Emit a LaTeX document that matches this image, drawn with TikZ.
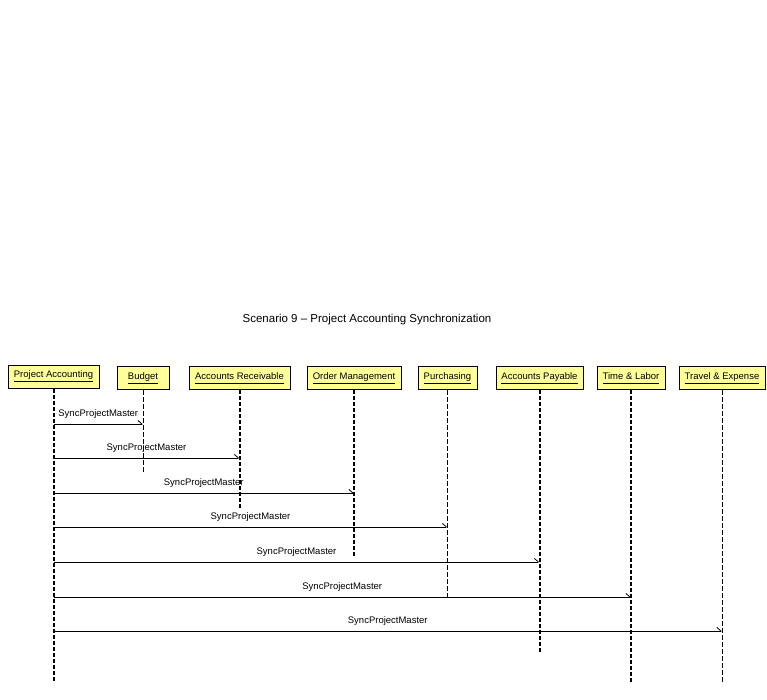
\documentclass[tikz,border=0pt]{standalone}
\usepackage{fontspec}
\setmainfont{Liberation Sans}
\usetikzlibrary{arrows.meta}
\definecolor{objyellow}{RGB}{255,255,153}
\newcommand{\ulname}[1]{\underline{#1\vphantom{gjpy}}}

\begin{document}
\begin{tikzpicture}[
        x=1pt, y=-1pt,
        obj/.style={draw, line width=1pt, fill=objyellow, minimum height=23pt, inner sep=0pt, align=center, font=\fontsize{9.5}{11}\selectfont},
        lifethick/.style={line width=2pt, dash pattern=on 4pt off 2pt},
        lifethin/.style={line width=1pt, dash pattern=on 5pt off 2pt},
        msg/.style={line width=1pt, -{Straight Barb[harpoon, length=4pt, width=7pt, line width=0.8pt]}},
        lbl/.style={font=\fontsize{9.5}{11}\selectfont, inner sep=0pt, above=5pt}
    ]
        \useasboundingbox (0,0) rectangle (767,699);
        % Titulo
        \node[font=\fontsize{11.5}{13}\selectfont] (title) at (367,320) {Scenario 9 -- Project Accounting Synchronization};
        % Objetos
        \node[obj, minimum width=91pt] (pa) at (53.5,376.5) {\ulname{Project Accounting}};
        \node[obj, minimum width=52pt] (bu) at (143,378) {\ulname{Budget}};
        \node[obj, minimum width=101pt] (ar) at (239.5,378) {\ulname{Accounts Receivable}};
        \node[obj, minimum width=94pt] (om) at (354,378) {\ulname{Order Management}};
        \node[obj, minimum width=59pt] (pu) at (447.5,378) {\ulname{Purchasing}};
        \node[obj, minimum width=87pt] (ap) at (539.5,378) {\ulname{Accounts Payable}};
        \node[obj, minimum width=68pt] (tl) at (631,378) {\ulname{Time \& Labor}};
        \node[obj, minimum width=86pt] (te) at (722,378) {\ulname{Travel \& Expense}};
        % Fin de las lineas de vida
        \coordinate (pa-end) at (53.5,682);
        \coordinate (bu-end) at (143,473);
        \coordinate (ar-end) at (239.5,508);
        \coordinate (om-end) at (354,556);
        \coordinate (pu-end) at (447.5,598);
        \coordinate (ap-end) at (539.5,653);
        \coordinate (tl-end) at (631,682);
        \coordinate (te-end) at (722,682);
        \draw[lifethick] (pa.south) -- (pa-end);
        \draw[lifethin] (bu.south) -- (bu-end);
        \draw[lifethick] (ar.south) -- (ar-end);
        \draw[lifethick] (om.south) -- (om-end);
        \draw[lifethin] (pu.south) -- (pu-end);
        \draw[lifethick] (ap.south) -- (ap-end);
        \draw[lifethick] (tl.south) -- (tl-end);
        \draw[lifethin] (te.south) -- (te-end);
        % Mensajes
        \coordinate (y1) at (0,424);
        \coordinate (y2) at (0,458);
        \coordinate (y3) at (0,493);
        \coordinate (y4) at (0,527);
        \coordinate (y5) at (0,562);
        \coordinate (y6) at (0,597);
        \coordinate (y7) at (0,631);
        \draw[msg] (pa |- y1) -- node[lbl] {SyncProjectMaster} (bu |- y1);
        \draw[msg] (pa |- y2) -- node[lbl] {SyncProjectMaster} (ar |- y2);
        \draw[msg] (pa |- y3) -- node[lbl] {SyncProjectMaster} (om |- y3);
        \draw[msg] (pa |- y4) -- node[lbl] {SyncProjectMaster} (pu |- y4);
        \draw[msg] (pa |- y5) -- node[lbl] {SyncProjectMaster} (ap |- y5);
        \draw[msg] (pa |- y6) -- node[lbl] {SyncProjectMaster} (tl |- y6);
        \draw[msg] (pa |- y7) -- node[lbl] {SyncProjectMaster} (te |- y7);
    \end{tikzpicture}
\end{document}
